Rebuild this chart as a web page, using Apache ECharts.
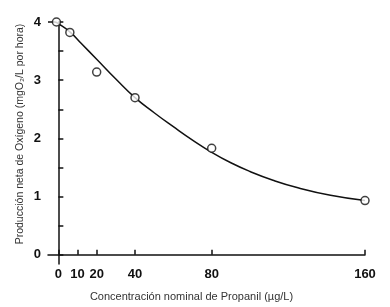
<!DOCTYPE html>
<html>
<head>
<meta charset="utf-8">
<script src="https://cdn.jsdelivr.net/npm/echarts@6/dist/echarts.min.js"></script>
<style>
  html, body {margin: 0; padding: 0; background: #fff;}
  #chart {width: 390px; height: 307px;}
</style>
</head>
<body>
<div id="chart"></div>
<script>
// measured points (concentration, production)
var pointX = [-1, 6, 20, 40, 80, 160];
var pointY = [4.0, 3.82, 3.14, 2.70, 1.83, 0.93];

// fitted curve
var curveX = [-5.4, -2, 0, 6, 12, 20, 30, 40, 50, 60, 70, 80, 90, 100, 112, 125, 142, 160];
var curveY = [4.0, 4.0, 3.97, 3.83, 3.63, 3.36, 3.02, 2.70, 2.44, 2.20, 1.97, 1.76, 1.58, 1.43, 1.28, 1.15, 1.02, 0.93];

var xTicks = [0, 10, 20, 40, 80, 160];
var yLabels = [0, 1, 2, 3, 4];
var yTicks = [0, 0.5, 1, 1.5, 2, 2.5, 3, 3.5, 4];

var myChart = echarts.init(document.getElementById('chart'));

var axisColor = '#111';
var tickFont = {color: '#111', fontSize: 13, fontWeight: 'bold', fontFamily: 'Liberation Sans'};

myChart.setOption({
  animation: false,
  grid: {left: 48, right: 25, top: 22, bottom: 40},
  xAxis: {
    type: 'value',
    min: -5.4,
    max: 160,
    name: 'Concentración nominal de Propanil (µg/L)',
    nameLocation: 'middle',
    nameGap: 27,
    nameMoveOverlap: false,
    nameTextStyle: {color: '#333', fontSize: 11, fontFamily: 'Liberation Sans', padding: [0, 30, 0, 0]},
    splitLine: {show: false},
    axisLine: {lineStyle: {color: axisColor, width: 1.5}},
    axisTick: {inside: true, length: 5, customValues: xTicks, lineStyle: {color: axisColor, width: 1.5}},
    axisLabel: Object.assign({customValues: xTicks, margin: 4}, tickFont)
  },
  yAxis: {
    type: 'value',
    min: -0.16,
    max: 4,
    name: 'Producción neta de Oxígeno (mgO₂/L por hora)',
    nameLocation: 'middle',
    nameGap: 22,
    nameMoveOverlap: false,
    nameTextStyle: {color: '#333', fontSize: 10.5, fontFamily: 'Liberation Sans', padding: [0, 0, 0, 18]},
    splitLine: {show: false},
    axisLine: {show: true, lineStyle: {color: axisColor, width: 1.5}},
    axisTick: {show: true, inside: true, length: 5, customValues: yTicks, lineStyle: {color: axisColor, width: 1.5}},
    axisLabel: Object.assign({customValues: yLabels, margin: 7}, tickFont)
  },
  series: [
    {
      type: 'line',
      data: curveX.map(function (x, i) { return [x, curveY[i]]; }),
      smooth: 0.5,
      showSymbol: false,
      clip: false,
      lineStyle: {color: '#111', width: 1.5}
    },
    {
      type: 'scatter',
      data: pointX.map(function (x, i) { return [x, pointY[i]]; }),
      symbol: 'circle',
      symbolSize: 8,
      clip: false,
      z: 3,
      itemStyle: {color: '#fff', borderColor: '#111', borderWidth: 1.5}
    }
  ]
});
</script>
</body>
</html>
